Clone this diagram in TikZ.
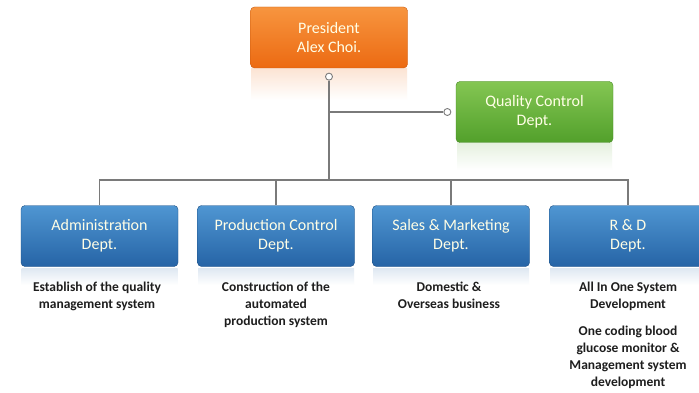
\documentclass[tikz,border=0pt]{standalone}
\usepackage{fontspec}
\setmainfont{Carlito}
\usetikzlibrary{positioning}
\definecolor{orangetop}{HTML}{F7953F}
\definecolor{orangebot}{HTML}{EC6A12}
\definecolor{greentop}{HTML}{84C653}
\definecolor{greenbot}{HTML}{52A02B}
\definecolor{bluetop}{HTML}{4F96D2}
\definecolor{bluebot}{HTML}{2664A6}
\definecolor{linegray}{HTML}{7A7A7A}
\definecolor{desctext}{HTML}{1E1E1E}
\begin{document}
\begin{tikzpicture}[x=1pt,y=-1pt,
  box/.style={rectangle,rounded corners=4pt,minimum width=157pt,minimum height=61pt,
    align=center,text=white!90!yellow,inner sep=0pt,font=\fontsize{16}{19}\selectfont},
  orangebox/.style={box,top color=orangetop,bottom color=orangebot,draw=orangebot!85!black},
  greenbox/.style={box,top color=greentop,bottom color=greenbot,draw=greenbot!85!black},
  bluebox/.style={box,top color=bluetop,bottom color=bluebot,draw=bluebot!80!black},
  dot/.style={circle,draw=linegray,fill=white,line width=0.9pt,inner sep=0pt,minimum size=7pt},
  conn/.style={draw=linegray,line width=1.2pt},
  desc/.style={align=center,text=desctext,inner sep=0pt,font=\fontsize{13.5}{17}\selectfont\bfseries}]
  \useasboundingbox[fill=white] (0,0) rectangle (699,393);

  % reflections
  \shade[top color=orangebot!18,bottom color=white] (251,69) rectangle (407,100);
  \shade[top color=greenbot!15,bottom color=white] (457,143) rectangle (612,170);
  \foreach \cx in {99.5,276,451,628}
    \shade[top color=bluebot!15,bottom color=white] (\cx-78,268) rectangle (\cx+78,285);

  % boxes
  \node[orangebox] (pres) at (329,37.5) {President\\Alex Choi.};
  \node[greenbox] (qc) at (534.5,112) {Quality Control\\Dept.};
  \node[bluebox] (adm) at (99.5,236) {Administration\\Dept.};
  \node[bluebox] (prod) at (276,236) {Production Control\\Dept.};
  \node[bluebox] (sales) at (451,236) {Sales \& Marketing\\Dept.};
  \node[bluebox] (rd) at (628,236) {R \& D\\Dept.};

  % connectors
  \node[dot,below=4.5pt of pres] (pdot) {};
  \node[dot,left=4.5pt of qc] (qdot) {};
  \coordinate (bus) at (329,180);
  \draw[conn] (pdot) -- (bus);
  \draw[conn] (pdot |- qdot) -- (qdot);
  \draw[conn] (adm.north) -- (adm.north |- bus) -- (rd.north |- bus) -- (rd.north);
  \draw[conn] (prod.north) -- (prod.north |- bus);
  \draw[conn] (sales.north) -- (sales.north |- bus);

  % descriptions
  \node[desc,anchor=north] (admtxt) at (97,282) {Establish of the quality\\management system};
  \node[desc,anchor=north] (prodtxt) at (276,282) {Construction of the\\automated\\production system};
  \node[desc,anchor=north] (salestxt) at (449,282) {Domestic \&\\Overseas business};
  \node[desc,anchor=north] (rdtxt) at (628,282) {All In One System\\Development};
  \node[desc,anchor=north] (rdtxt2) at (628,326) {One coding blood\\glucose monitor \&\\Management system\\development};
\end{tikzpicture}
\end{document}
